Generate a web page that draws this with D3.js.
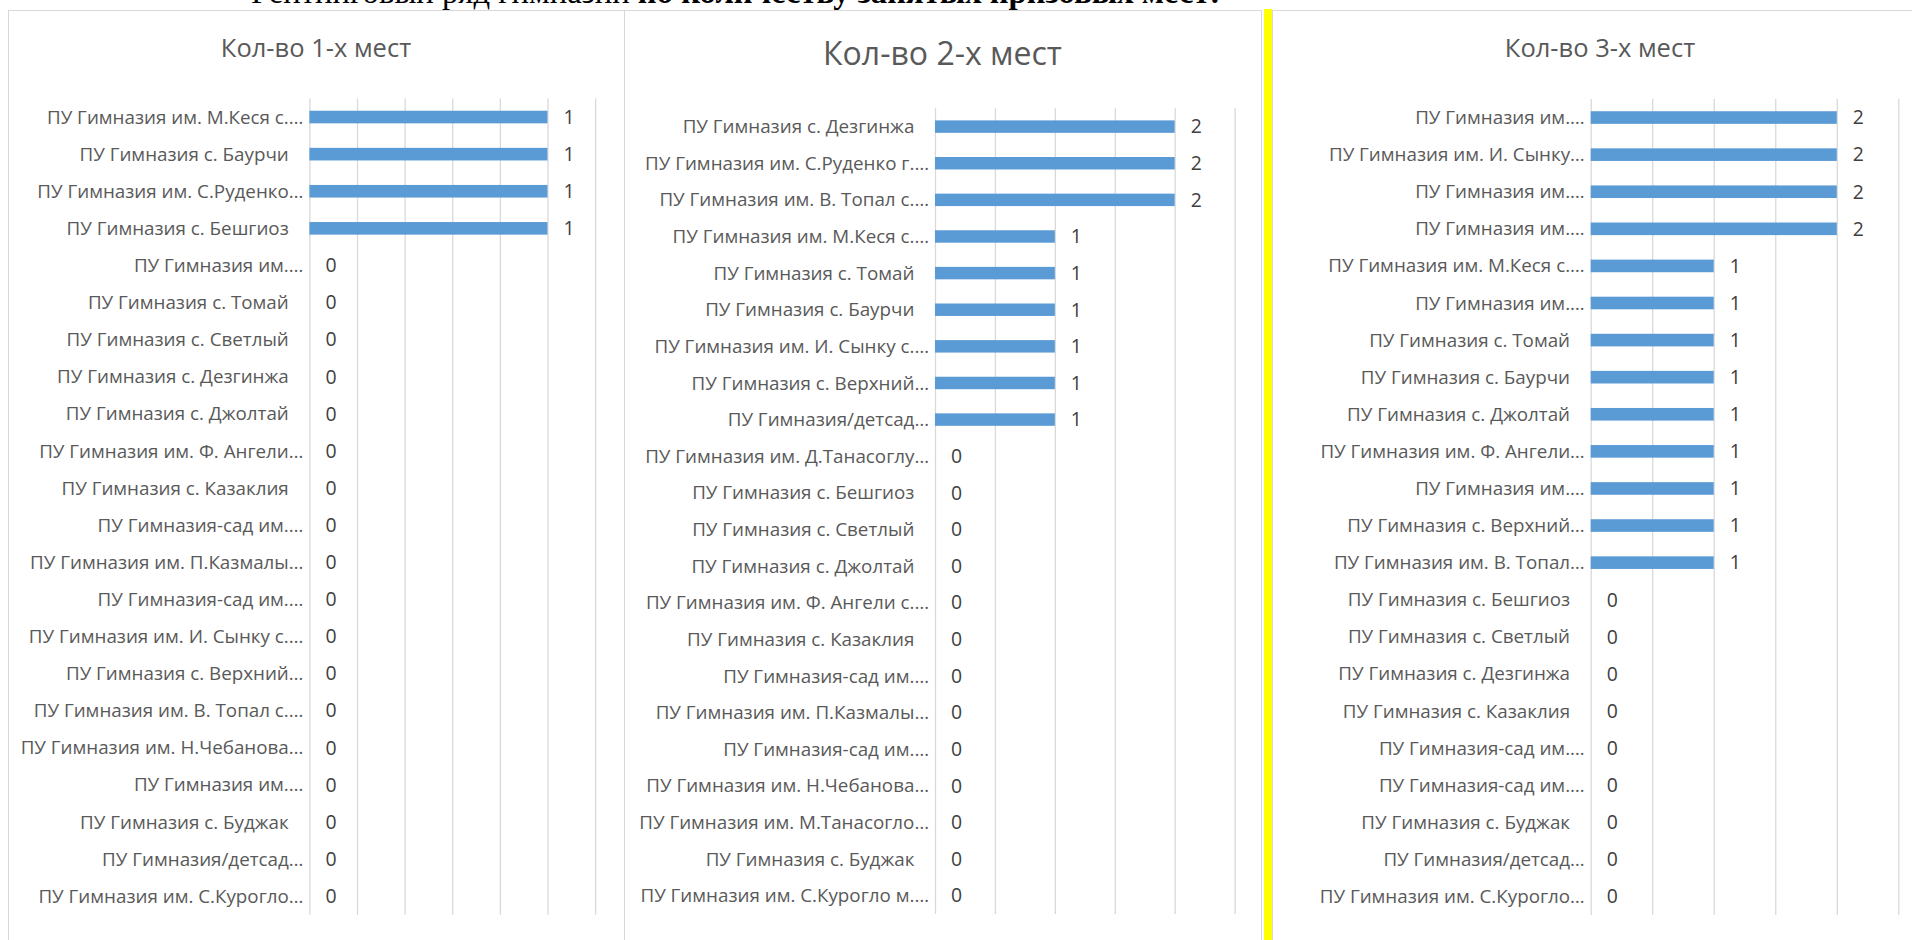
<!DOCTYPE html>
<html>
<head>
<meta charset="utf-8">
<script src="https://cdn.jsdelivr.net/npm/d3@7"></script>
<style>
  body { margin: 0; background: #fff; overflow: hidden; }
  svg { display: block; }
  text { white-space: pre; }
</style>
</head>
<body>
<svg id="chart" width="1912" height="940"></svg>
<script>
// Data (top-to-bottom order as drawn)
const headingPlain = 'Рейтинговый ряд гимназий ';
const headingBold = 'по количеству занятых призовых мест:';

const firstPlaceSchools = [
  'ПУ Гимназия им. М.Кеся с.…', 'ПУ Гимназия с. Баурчи   ', 'ПУ Гимназия им. С.Руденко…',
  'ПУ Гимназия с. Бешгиоз   ', 'ПУ Гимназия им.…', 'ПУ Гимназия с. Томай   ',
  'ПУ Гимназия с. Светлый   ', 'ПУ Гимназия с. Дезгинжа   ', 'ПУ Гимназия с. Джолтай   ',
  'ПУ Гимназия им. Ф. Ангели…', 'ПУ Гимназия с. Казаклия   ', 'ПУ Гимназия-сад им.…',
  'ПУ Гимназия им. П.Казмалы…', 'ПУ Гимназия-сад им.…', 'ПУ Гимназия им. И. Сынку с.…',
  'ПУ Гимназия с. Верхний…', 'ПУ Гимназия им. В. Топал с.…', 'ПУ Гимназия им. Н.Чебанова…',
  'ПУ Гимназия им.…', 'ПУ Гимназия с. Буджак   ', 'ПУ Гимназия/детсад…',
  'ПУ Гимназия им. С.Курогло…'
];
const firstPlaceCounts = [1, 1, 1, 1, 0, 0, 0, 0, 0, 0, 0, 0, 0, 0, 0, 0, 0, 0, 0, 0, 0, 0];

const secondPlaceSchools = [
  'ПУ Гимназия с. Дезгинжа   ', 'ПУ Гимназия им. С.Руденко г.…', 'ПУ Гимназия им. В. Топал с.…',
  'ПУ Гимназия им. М.Кеся с.…', 'ПУ Гимназия с. Томай   ', 'ПУ Гимназия с. Баурчи   ',
  'ПУ Гимназия им. И. Сынку с.…', 'ПУ Гимназия с. Верхний…', 'ПУ Гимназия/детсад…',
  'ПУ Гимназия им. Д.Танасоглу…', 'ПУ Гимназия с. Бешгиоз   ', 'ПУ Гимназия с. Светлый   ',
  'ПУ Гимназия с. Джолтай   ', 'ПУ Гимназия им. Ф. Ангели с.…', 'ПУ Гимназия с. Казаклия   ',
  'ПУ Гимназия-сад им.…', 'ПУ Гимназия им. П.Казмалы…', 'ПУ Гимназия-сад им.…',
  'ПУ Гимназия им. Н.Чебанова…', 'ПУ Гимназия им. М.Танасогло…', 'ПУ Гимназия с. Буджак   ',
  'ПУ Гимназия им. С.Курогло м.…'
];
const secondPlaceCounts = [2, 2, 2, 1, 1, 1, 1, 1, 1, 0, 0, 0, 0, 0, 0, 0, 0, 0, 0, 0, 0, 0];

const thirdPlaceSchools = [
  'ПУ Гимназия им.…', 'ПУ Гимназия им. И. Сынку…', 'ПУ Гимназия им.…',
  'ПУ Гимназия им.…', 'ПУ Гимназия им. М.Кеся с.…', 'ПУ Гимназия им.…',
  'ПУ Гимназия с. Томай   ', 'ПУ Гимназия с. Баурчи   ', 'ПУ Гимназия с. Джолтай   ',
  'ПУ Гимназия им. Ф. Ангели…', 'ПУ Гимназия им.…', 'ПУ Гимназия с. Верхний…',
  'ПУ Гимназия им. В. Топал…', 'ПУ Гимназия с. Бешгиоз   ', 'ПУ Гимназия с. Светлый   ',
  'ПУ Гимназия с. Дезгинжа   ', 'ПУ Гимназия с. Казаклия   ', 'ПУ Гимназия-сад им.…',
  'ПУ Гимназия-сад им.…', 'ПУ Гимназия с. Буджак   ', 'ПУ Гимназия/детсад…',
  'ПУ Гимназия им. С.Курогло…'
];
const thirdPlaceCounts = [2, 2, 2, 2, 1, 1, 1, 1, 1, 1, 1, 1, 1, 0, 0, 0, 0, 0, 0, 0, 0, 0];

const panelTitles = ['Кол-во 1-х мест', 'Кол-во 2-х мест', 'Кол-во 3-х мест'];
const axisMax = [1.2, 2.5, 2.5];

let svg = d3.select('#chart');

let labelFont = '"Open Sans", "Noto Sans", sans-serif';
let barColor = '#5b9bd5';
let gridColor = '#d9d9d9';

// Page heading, mostly cut off at the top edge (as in the document)
let heading = svg.append('text')
  .attr('x', 251)
  .attr('y', 3)
  .attr('font-family', '"Liberation Serif", serif')
  .attr('font-size', 32.7)
  .attr('fill', '#000');
heading.append('tspan').text(headingPlain);
heading.append('tspan').attr('font-weight', 'bold').text(headingBold);

// layout of the three chart boxes (pixels)
let panels = [
  {title: panelTitles[0], labels: firstPlaceSchools, values: firstPlaceCounts, max: axisMax[0],
    frameLeft: 8, frameRight: 624, titleY: 57, titleSize: 25.5,
    left: 309.4, right: 595.1, top: 98.5, bottom: 914.7},
  {title: panelTitles[1], labels: secondPlaceSchools, values: secondPlaceCounts, max: axisMax[1],
    frameLeft: 624, frameRight: 1261, titleY: 65, titleSize: 32,
    left: 935, right: 1234.6, top: 108.3, bottom: 914},
  {title: panelTitles[2], labels: thirdPlaceSchools, values: thirdPlaceCounts, max: axisMax[2],
    frameLeft: 1272, frameRight: 1928, titleY: 57, titleSize: 25.5,
    left: 1590.7, right: 1898.3, top: 99, bottom: 915}
];

panels.forEach(function (p) {
  let g = svg.append('g').attr('class', 'panel');

  // chart box
  g.append('rect')
    .attr('x', p.frameLeft + 0.5)
    .attr('y', 10.5)
    .attr('width', p.frameRight - p.frameLeft)
    .attr('height', 1000)
    .attr('fill', 'none')
    .attr('stroke', gridColor);

  g.append('text')
    .attr('x', (p.frameLeft + p.frameRight) / 2)
    .attr('y', p.titleY)
    .attr('text-anchor', 'middle')
    .attr('font-family', labelFont)
    .attr('font-size', p.titleSize)
    .attr('fill', '#595959')
    .text(p.title);

  let x = d3.scaleLinear()
    .domain([0, p.max])
    .range([p.left, p.right]);

  let y = d3.scaleBand()
    .domain(d3.range(p.labels.length))
    .range([p.top, p.bottom])
    .paddingInner(0.66)
    .paddingOuter(0.33);

  // vertical gridlines (value axis itself is hidden)
  g.append('g')
    .attr('class', 'grid')
    .attr('transform', 'translate(0,' + p.bottom + ')')
    .call(d3.axisBottom(x).ticks(p.max > 2 ? 5 : 6).tickSize(-(p.bottom - p.top)).tickFormat(''))
    .call((a) => a.select('.domain').remove())
    .selectAll('line')
    .attr('stroke', gridColor)
    .attr('stroke-width', 1.3);

  g.selectAll('.bar')
    .data(p.values)
    .enter().append('rect')
    .attr('class', 'bar')
    .attr('x', x(0))
    .attr('y', (d, i) => y(i))
    .attr('width', (d) => x(d) - x(0))
    .attr('height', y.bandwidth())
    .attr('fill', barColor);

  // category labels
  g.selectAll('.cat')
    .data(p.labels)
    .enter().append('text')
    .attr('class', 'cat')
    .attr('x', p.left - 6)
    .attr('y', (d, i) => y(i) + y.bandwidth() / 2)
    .attr('dy', '0.35em')
    .attr('text-anchor', 'end')
    .attr('font-family', labelFont)
    .attr('font-size', 18.8)
    .attr('fill', '#595959')
    .text((d) => d);

  // value labels
  g.selectAll('.val')
    .data(p.values)
    .enter().append('text')
    .attr('class', 'val')
    .attr('x', (d) => x(d) + 16)
    .attr('y', (d, i) => y(i) + y.bandwidth() / 2)
    .attr('dy', '0.35em')
    .attr('font-family', labelFont)
    .attr('font-size', 19.4)
    .attr('fill', '#404040')
    .text((d) => d);
});

// yellow highlight stripe between the 2nd and 3rd charts
svg.append('rect')
  .attr('x', 1264)
  .attr('y', 9)
  .attr('width', 8)
  .attr('height', 931)
  .attr('fill', '#ffff00');
</script>
</body>
</html>
